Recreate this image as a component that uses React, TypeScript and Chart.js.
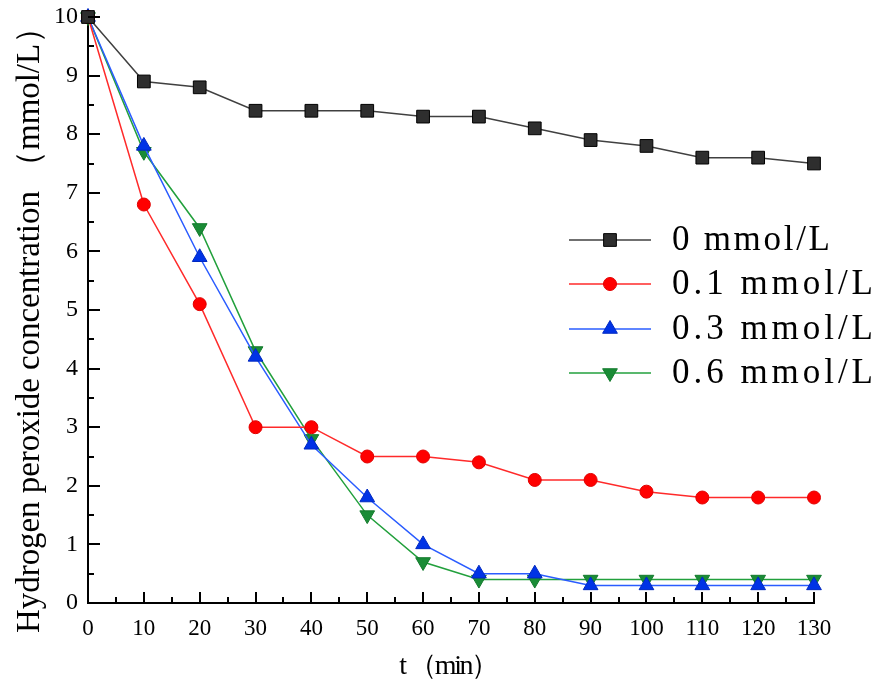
import React, { useEffect, useRef } from "react";
import { Chart, registerables } from "chart.js";

Chart.register(...registerables);

const times = [0, 10, 20, 30, 40, 50, 60, 70, 80, 90, 100, 110, 120, 130];
const conc0 = [10, 8.9, 8.8, 8.4, 8.4, 8.4, 8.3, 8.3, 8.1, 7.9, 7.8, 7.6, 7.6, 7.5];
const conc01 = [10, 6.8, 5.1, 3.0, 3.0, 2.5, 2.5, 2.4, 2.1, 2.1, 1.9, 1.8, 1.8, 1.8];
const conc03 = [10, 7.8, 5.9, 4.2, 2.7, 1.8, 1.0, 0.5, 0.5, 0.3, 0.3, 0.3, 0.3, 0.3];
const conc06 = [10, 7.7, 6.4, 4.3, 2.8, 1.5, 0.7, 0.4, 0.4, 0.4, 0.4, 0.4, 0.4, 0.4];
const seriesLabels = ["0 mmol/L", "0.1 mmol/L", "0.3 mmol/L", "0.6 mmol/L"];
const xTitle = "t （min）";
const yTitle = "Hydrogen peroxide concentration （mmol/L）";

const FONT = "'Liberation Serif', 'DejaVu Serif', serif";

const toPts = (ys: number[]) => times.map((t, i) => ({ x: t, y: ys[i] }));

function drawTextSpaced(ctx: CanvasRenderingContext2D, text: string, x: number, y: number, targetWidth: number | null) {
  (ctx as any).letterSpacing = "0px";
  if (targetWidth) {
    const w = ctx.measureText(text).width;
    const n = Math.max(1, text.length - 1);
    const ls = (targetWidth - w) / n;
    (ctx as any).letterSpacing = ls + "px";
  }
  ctx.fillText(text, x, y);
  (ctx as any).letterSpacing = "0px";
}

function drawMarker(ctx: CanvasRenderingContext2D, style: string, rot: number, r: number, x: number, y: number) {
  ctx.beginPath();
  if (style === "rect") {
    const s = Math.SQRT1_2 * r;
    ctx.rect(x - s, y - s, 2 * s, 2 * s);
  } else if (style === "circle") {
    ctx.arc(x, y, r, 0, Math.PI * 2);
  } else {
    const dir = rot === 180 ? -1 : 1;
    const h = r * 1.5;
    const half = r * Math.sqrt(3) / 2;
    ctx.moveTo(x, y - dir * r);
    ctx.lineTo(x - half, y + dir * (h - r));
    ctx.lineTo(x + half, y + dir * (h - r));
  }
  ctx.closePath();
  ctx.fill();
  ctx.stroke();
}

const decorPlugin = {
  id: "decor",
  afterDraw(chart: any) {
    const ctx = chart.ctx as CanvasRenderingContext2D;
    const xs = chart.scales.x;
    const ys = chart.scales.y;
    const area = chart.chartArea;
    ctx.save();
    ctx.strokeStyle = "#000";
    ctx.lineWidth = 2;
    // inward ticks
    for (let v = 0; v <= 130; v += 5) {
      const px = Math.round(xs.getPixelForValue(v));
      const len = v % 10 === 0 ? 11 : 6;
      ctx.beginPath();
      ctx.moveTo(px, area.bottom);
      ctx.lineTo(px, area.bottom - len);
      ctx.stroke();
    }
    for (let v = 0; v <= 10; v += 0.5) {
      const py = Math.round(ys.getPixelForValue(v));
      const len = Math.abs(v - Math.round(v)) < 1e-6 ? 12 : 6;
      ctx.beginPath();
      ctx.moveTo(area.left, py);
      ctx.lineTo(area.left + len, py);
      ctx.stroke();
    }
    // axis titles
    ctx.fillStyle = "#000";
    ctx.textAlign = "center";
    ctx.textBaseline = "middle";
    ctx.font = `28px ${FONT}`;
    drawTextSpaced(ctx, xTitle, (area.left + area.right) / 2 - 3, 667, 100);
    ctx.save();
    ctx.translate(30, 322);
    ctx.rotate(-Math.PI / 2);
    ctx.font = `33px ${FONT}`;
    drawTextSpaced(ctx, yTitle, 0, 0, 622);
    ctx.restore();

    // legend
    const rows = [240, 284, 329, 373];
    chart.data.datasets.forEach((ds: any, i: number) => {
      const y = rows[i];
      ctx.strokeStyle = ds.borderColor;
      ctx.lineWidth = ds.borderWidth;
      ctx.beginPath();
      ctx.moveTo(569, y);
      ctx.lineTo(651, y);
      ctx.stroke();
      ctx.fillStyle = ds.pointBackgroundColor;
      ctx.strokeStyle = ds.pointBorderColor;
      ctx.lineWidth = ds.pointBorderWidth;
      drawMarker(ctx, ds.pointStyle, ds.pointRotation || 0, ds.pointRadius, 610, y);
      ctx.fillStyle = "#000";
      ctx.textAlign = "left";
      ctx.textBaseline = "middle";
      ctx.font = `35px ${FONT}`;
      const target = ds.label.length === 8 ? 158 : 201;
      drawTextSpaced(ctx, ds.label, 672, y + 1, target);
    });
    ctx.restore();
  },
};

export default function App() {
  const ref = useRef<HTMLCanvasElement | null>(null);
  useEffect(() => {
    if (!ref.current) return;
    const mk = (label: string, data: number[], line: string, fill: string, border: string, style: string, radius: number, rot = 0) => ({
      label,
      data: toPts(data),
      borderColor: line,
      backgroundColor: fill,
      borderWidth: 1.5,
      pointStyle: style,
      pointRadius: radius,
      pointHoverRadius: radius,
      pointRotation: rot,
      pointBackgroundColor: fill,
      pointBorderColor: border,
      pointBorderWidth: 1,
      clip: false,
      tension: 0,
    });
    const chart = new Chart(ref.current, {
      type: "line",
      data: {
        datasets: [
          mk(seriesLabels[0], conc0, "#404040", "#2e2e2e", "#000000", "rect", 9),
          mk(seriesLabels[1], conc01, "#ff2a2a", "#ff0000", "#e00000", "circle", 6.5),
          mk(seriesLabels[2], conc03, "#2a5cff", "#0033e6", "#0028c0", "triangle", 8.5),
          mk(seriesLabels[3], conc06, "#22a03c", "#1a8c36", "#137a2c", "triangle", 8.5, 180),
        ] as any,
      },
      options: {
        animation: false,
        responsive: false,
        maintainAspectRatio: false,
        layout: { padding: { left: 0, right: 67, top: 17, bottom: 0 } },
        plugins: { legend: { display: false }, tooltip: { enabled: false } },
        scales: {
          x: {
            type: "linear",
            min: 0,
            max: 130,
            afterFit: (s: any) => { s.height = 83; s.paddingLeft = 0; s.paddingRight = 0; },
            ticks: { stepSize: 10, padding: 12, color: "#000", font: { family: FONT, size: 23 }, maxRotation: 0, autoSkip: false },
            grid: { display: false, drawTicks: false },
            border: { display: true, color: "#000", width: 2 },
          },
          y: {
            type: "linear",
            min: 0,
            max: 10,
            afterFit: (s: any) => { s.width = 88; s.paddingTop = 0; s.paddingBottom = 0; },
            ticks: { stepSize: 1, padding: 10, color: "#000", font: { family: FONT, size: 24 } },
            grid: { display: false, drawTicks: false },
            border: { display: true, color: "#000", width: 2 },
          },
        },
      } as any,
      plugins: [decorPlugin],
    });
    return () => chart.destroy();
  }, []);
  return (
    <div style={{ position: "fixed", left: 0, top: 0, width: 881, height: 686, background: "#fff" }}>
      <canvas ref={ref} width={881} height={686} style={{ display: "block" }} />
    </div>
  );
}
